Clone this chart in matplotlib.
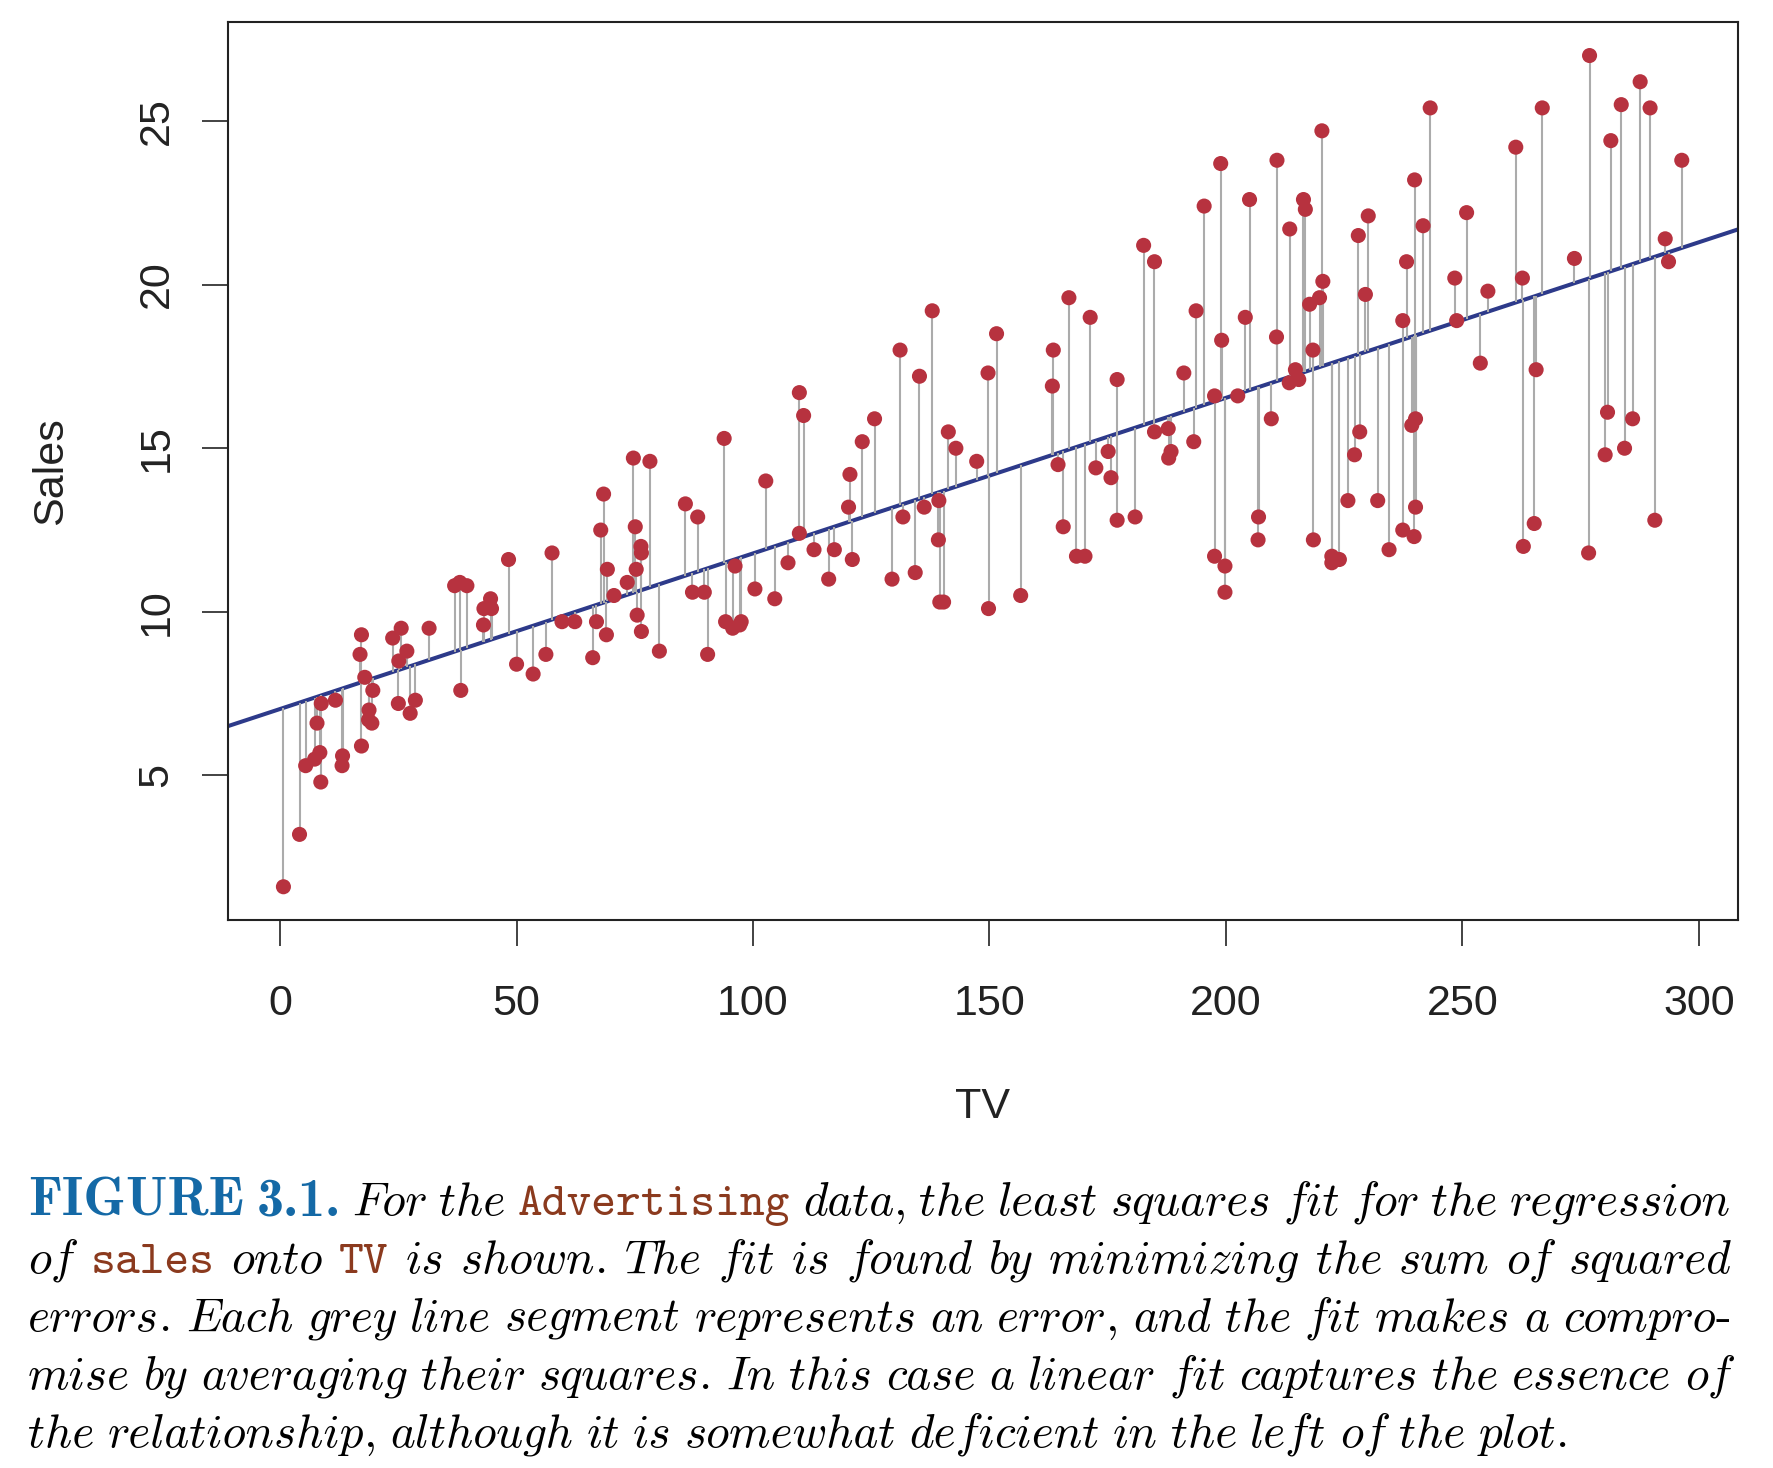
import numpy as np
import matplotlib
matplotlib.use("Agg")
import matplotlib.pyplot as plt

# ---------------- data (Advertising: TV vs sales) ----------------
tv = [230.1, 44.5, 17.2, 151.5, 180.8, 8.7, 57.5, 120.2, 8.6, 199.8,
      66.1, 214.7, 23.8, 97.5, 204.1, 195.4, 67.8, 281.4, 69.2, 147.3,
      218.4, 237.4, 13.2, 228.3, 62.3, 262.9, 142.9, 240.1, 248.8, 70.6,
      292.9, 112.9, 97.2, 265.6, 95.7, 290.7, 266.9, 74.7, 43.1, 228.0,
      202.5, 177.0, 293.6, 206.9, 25.1, 175.1, 89.7, 239.9, 227.2, 66.9,
      199.8, 100.4, 216.4, 182.6, 262.7, 198.9, 7.3, 136.2, 210.8, 210.7,
      53.5, 261.3, 239.3, 102.7, 131.1, 69.0, 31.5, 139.3, 237.4, 216.8,
      199.1, 109.8, 26.8, 129.4, 213.4, 16.9, 27.5, 120.5, 5.4, 116.0,
      76.4, 239.8, 75.3, 68.4, 213.5, 193.2, 76.3, 110.7, 88.3, 109.8,
      134.3, 28.6, 217.7, 250.9, 107.4, 163.3, 197.6, 184.9, 289.7, 135.2,
      222.4, 296.4, 280.2, 187.9, 238.2, 137.9, 25.0, 90.4, 13.1, 255.4,
      225.8, 241.7, 175.7, 209.6, 78.2, 75.1, 139.2, 76.4, 125.7, 19.4,
      141.3, 18.8, 224.0, 123.1, 229.5, 87.2, 7.8, 80.2, 220.3, 59.6,
      0.7, 265.2, 8.4, 219.8, 36.9, 48.3, 25.6, 273.7, 43.0, 184.9,
      73.4, 193.7, 220.5, 104.6, 96.2, 140.3, 240.1, 243.2, 38.0, 44.7,
      280.7, 121.0, 197.6, 171.3, 187.8, 4.1, 93.9, 149.8, 11.7, 131.7,
      172.5, 85.7, 188.4, 163.5, 117.2, 234.5, 17.9, 206.8, 215.4, 284.3,
      50.0, 164.5, 19.6, 168.4, 222.4, 276.9, 248.4, 170.2, 276.7, 165.6,
      156.6, 218.5, 56.2, 287.6, 253.8, 205.0, 139.5, 191.1, 286.0, 18.7,
      39.5, 75.5, 17.2, 166.8, 149.7, 38.2, 94.2, 177.0, 283.6, 232.1]

sales = [22.1, 10.4, 9.3, 18.5, 12.9, 7.2, 11.8, 13.2, 4.8, 10.6,
         8.6, 17.4, 9.2, 9.7, 19.0, 22.4, 12.5, 24.4, 11.3, 14.6,
         18.0, 12.5, 5.6, 15.5, 9.7, 12.0, 15.0, 15.9, 18.9, 10.5,
         21.4, 11.9, 9.6, 17.4, 9.5, 12.8, 25.4, 14.7, 10.1, 21.5,
         16.6, 17.1, 20.7, 12.9, 8.5, 14.9, 10.6, 23.2, 14.8, 9.7,
         11.4, 10.7, 22.6, 21.2, 20.2, 23.7, 5.5, 13.2, 23.8, 18.4,
         8.1, 24.2, 15.7, 14.0, 18.0, 9.3, 9.5, 13.4, 18.9, 22.3,
         18.3, 12.4, 8.8, 11.0, 17.0, 8.7, 6.9, 14.2, 5.3, 11.0,
         11.8, 12.3, 11.3, 13.6, 21.7, 15.2, 12.0, 16.0, 12.9, 16.7,
         11.2, 7.3, 19.4, 22.2, 11.5, 16.9, 11.7, 15.5, 25.4, 17.2,
         11.7, 23.8, 14.8, 14.7, 20.7, 19.2, 7.2, 8.7, 5.3, 19.8,
         13.4, 21.8, 14.1, 15.9, 14.6, 12.6, 12.2, 9.4, 15.9, 6.6,
         15.5, 7.0, 11.6, 15.2, 19.7, 10.6, 6.6, 8.8, 24.7, 9.7,
         1.6, 12.7, 5.7, 19.6, 10.8, 11.6, 9.5, 20.8, 9.6, 20.7,
         10.9, 19.2, 20.1, 10.4, 11.4, 10.3, 13.2, 25.4, 10.9, 10.1,
         16.1, 11.6, 16.6, 19.0, 15.6, 3.2, 15.3, 10.1, 7.3, 12.9,
         14.4, 13.3, 14.9, 18.0, 11.9, 11.9, 8.0, 12.2, 17.1, 15.0,
         8.4, 14.5, 7.6, 11.7, 11.5, 27.0, 20.2, 11.7, 11.8, 12.6,
         10.5, 12.2, 8.7, 26.2, 17.6, 22.6, 10.3, 17.3, 15.9, 6.7,
         10.8, 9.9, 5.9, 19.6, 17.3, 7.6, 9.7, 12.8, 25.5, 13.4]

x_ticks = [0, 50, 100, 150, 200, 250, 300]
y_ticks = [5, 10, 15, 20, 25]
x_label = "TV"
y_label = "Sales"

# caption: '@' = bold blue, '`' = typewriter brown, otherwise italic
caption_lines = [
    "@FIGURE @3.1. For the `Advertising data, the least squares fit for the regression",
    "of `sales onto `TV is shown. The fit is found by minimizing the sum of squared",
    "errors. Each grey line segment represents an error, and the fit makes a compro-",
    "mise by averaging their squares. In this case a linear fit captures the essence of",
    "the relationship, although it is somewhat deficient in the left of the plot.",
]

# ---------------- style ----------------
RED = "#B7323F"
NAVY = "#2D3A8A"
GREY = "#ABABAB"
INK = "#222222"
BLUE = "#1469A6"
BROWN = "#8B3A1E"

plt.rcParams["font.family"] = ["Liberation Sans", "DejaVu Sans"]

W, H = 1773, 1468
fig = plt.figure(figsize=(W / 100, H / 100), dpi=100)
fig.patch.set_facecolor("white")

ax_l, ax_r, ax_t, ax_b = 227.5, 1737.7, 22.3, 920.0
ax = fig.add_axes([ax_l / W, 1 - ax_b / H, (ax_r - ax_l) / W, (ax_b - ax_t) / H])

x = np.asarray(tv)
y = np.asarray(sales)
b1, b0 = np.polyfit(x, y, 1)
fitted = b0 + b1 * x

ax.axline((0, b0), slope=b1, color=NAVY, lw=2.9, zorder=2)
ax.vlines(x, y, fitted, colors=GREY, linewidth=1.5, zorder=3)
ax.scatter(x, y, s=118, color=RED, edgecolors="none", zorder=4)

xr = x.max() - x.min()
yr = y.max() - y.min()
ax.set_xlim(x.min() - 0.04 * xr, x.max() + 0.04 * xr)
ax.set_ylim(y.min() - 0.04 * yr, y.max() + 0.04 * yr)

for sp in ax.spines.values():
    sp.set_linewidth(1.5)
    sp.set_color(INK)

ax.set_xticks(x_ticks)
ax.set_yticks(y_ticks)
ax.tick_params(direction="out", length=18.7, width=1.2, color=INK,
               labelsize=31, labelcolor=INK)
ax.tick_params(axis="x", pad=27.4)
ax.tick_params(axis="y", pad=18)
for lab in ax.get_yticklabels():
    lab.set_rotation(90)
    lab.set_va("center")

ax.set_xlabel(x_label, fontsize=31, color=INK, labelpad=45)
ax.set_ylabel(y_label, fontsize=31, color=INK, labelpad=47)

# ---------------- caption (justified) ----------------
FS_I = 34     # italic body
FS_T = 34     # typewriter
FS_B = 39     # bold label
renderer = fig.canvas.get_renderer()


def parse_word(w):
    if w.startswith("@"):
        return [(w[1:], "b")]
    if w.startswith("`"):
        return [(w[1:], "t")]
    core = w.rstrip(",.-")
    punct = w[len(core):]
    parts = [(core, "i")]
    if punct:
        parts.append((punct, "p"))
    return parts


def make_text(s, kind, yb):
    kw = dict(va="baseline", ha="left", transform=None)
    if kind == "b":
        return fig.text(0, yb, s, fontfamily="cmb10", fontsize=FS_B, color=BLUE, **kw)
    if kind == "t":
        return fig.text(0, yb, s, fontfamily="cmtt10", fontsize=FS_T, color=BROWN, **kw)
    if kind == "p":
        return fig.text(0, yb, s, fontfamily="cmr10", fontsize=FS_I, color="black", **kw)
    return fig.text(0, yb, s, fontfamily="cmmi10", fontsize=FS_I, color="black", **kw)


cap_left, cap_right = 28.0, 1731.0
base0, lead = 1215.0, 58.0
for i, line in enumerate(caption_lines):
    yb = H - (base0 + i * lead)  # display coords, origin bottom-left
    words = []
    for w in line.split():
        texts = []
        for s, kind in parse_word(w):
            t = make_text(s, kind, yb)
            texts.append((t, t.get_window_extent(renderer).width))
        words.append(texts)
    widths = [sum(wd for _, wd in texts) for texts in words]
    last = i == len(caption_lines) - 1
    if last:
        gap = 0.28 * FS_I * 100 / 72
    else:
        gap = (cap_right - cap_left - sum(widths)) / (len(words) - 1)
    xpos = cap_left
    for texts, wtot in zip(words, widths):
        xx = xpos
        for t, wd in texts:
            t.set_position((xx, yb))
            xx += wd
        xpos += wtot + gap

fig.savefig("out.png", dpi=100, facecolor="white")
